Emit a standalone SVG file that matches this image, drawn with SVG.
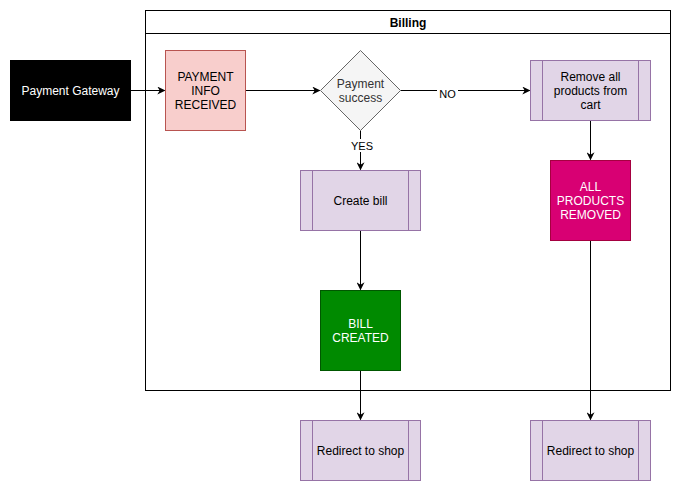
<svg xmlns="http://www.w3.org/2000/svg" width="681" height="491" viewBox="0 0 681 491">
<defs>
<marker id="arr" viewBox="0 0 10 10" refX="9" refY="5" markerWidth="8" markerHeight="8" markerUnits="userSpaceOnUse" orient="auto">
<path d="M0,0 L10,5 L0,10 L3,5 Z" fill="#000"/>
</marker>
</defs>
<style>
text{font-family:"Liberation Sans",Arial,sans-serif;font-size:12px;text-anchor:middle}
.proc{fill:#e1d5e7;stroke:#9673a6;stroke-width:1}
.edge{fill:none;stroke:#000;stroke-width:1;marker-end:url(#arr)}
.lbl{font-size:11px}
</style>
<rect width="681" height="491" fill="#fff"/>
<g id="pool">
<rect x="145.5" y="10.5" width="525" height="380" fill="none" stroke="#000"/>
<line x1="145.5" y1="33.5" x2="670.5" y2="33.5" stroke="#000"/>
<text x="408" y="26.5" font-weight="bold">Billing</text>
</g>
<g id="connectors">
<path class="edge" d="M130.5,90.5 H164.5"/>
<path class="edge" d="M245.5,90.5 H319.5"/>
<path class="edge" d="M400.5,90.5 H529.5"/>
<path class="edge" d="M360.5,130.5 V169.5"/>
<path class="edge" d="M590.5,120.5 V159.5"/>
<path class="edge" d="M360.5,230.5 V289.5"/>
<path class="edge" d="M360.5,370.5 V419.5"/>
<path class="edge" d="M590.5,240.5 V419.5"/>
<rect x="437" y="86" width="21" height="12" fill="#fff"/>
<text class="lbl" x="447.5" y="97.5">NO</text>
<rect x="349" y="139" width="25" height="13" fill="#fff"/>
<text class="lbl" x="362" y="149.5">YES</text>
</g>
<g id="payment-gateway">
<rect x="10" y="60" width="121" height="61" fill="#000"/>
<text x="70.5" y="94.5" fill="#fff">Payment Gateway</text>
</g>
<g id="payment-info">
<rect x="165.5" y="50.5" width="80" height="80" fill="#f8cecc" stroke="#b85450"/>
<text x="205.5" y="80.5">PAYMENT</text>
<text x="205.5" y="94.5">INFO</text>
<text x="205.5" y="108.5">RECEIVED</text>
</g>
<g id="payment-success">
<path d="M360.5,50.5 L400.5,90.5 L360.5,130.5 L320.5,90.5 Z" fill="#f5f5f5" stroke="#666666"/>
<text x="360.5" y="87.5" fill="#333333">Payment</text>
<text x="360.5" y="101.5" fill="#333333">success</text>
</g>
<g id="remove-products">
<rect class="proc" x="530.5" y="60.5" width="120" height="60"/>
<line x1="542.5" y1="60.5" x2="542.5" y2="120.5" stroke="#9673a6"/>
<line x1="638.5" y1="60.5" x2="638.5" y2="120.5" stroke="#9673a6"/>
<text x="590.5" y="80.5">Remove all</text>
<text x="590.5" y="94.5">products from</text>
<text x="590.5" y="108.5">cart</text>
</g>
<g id="create-bill">
<rect class="proc" x="300.5" y="170.5" width="120" height="60"/>
<line x1="312.5" y1="170.5" x2="312.5" y2="230.5" stroke="#9673a6"/>
<line x1="408.5" y1="170.5" x2="408.5" y2="230.5" stroke="#9673a6"/>
<text x="360.5" y="204.5">Create bill</text>
</g>
<g id="all-removed">
<rect x="550.5" y="160.5" width="80" height="80" fill="#d80073" stroke="#a50040"/>
<text x="590.5" y="190.5" fill="#fff">ALL</text>
<text x="590.5" y="204.5" fill="#fff">PRODUCTS</text>
<text x="590.5" y="218.5" fill="#fff">REMOVED</text>
</g>
<g id="bill-created">
<rect x="320.5" y="290.5" width="80" height="80" fill="#008a00" stroke="#005700"/>
<text x="360.5" y="327.5" fill="#fff">BILL</text>
<text x="360.5" y="341.5" fill="#fff">CREATED</text>
</g>
<g id="redirect-left">
<rect class="proc" x="300.5" y="420.5" width="120" height="60"/>
<line x1="312.5" y1="420.5" x2="312.5" y2="480.5" stroke="#9673a6"/>
<line x1="408.5" y1="420.5" x2="408.5" y2="480.5" stroke="#9673a6"/>
<text x="360.5" y="454.5">Redirect to shop</text>
</g>
<g id="redirect-right">
<rect class="proc" x="530.5" y="420.5" width="120" height="60"/>
<line x1="542.5" y1="420.5" x2="542.5" y2="480.5" stroke="#9673a6"/>
<line x1="638.5" y1="420.5" x2="638.5" y2="480.5" stroke="#9673a6"/>
<text x="590.5" y="454.5">Redirect to shop</text>
</g>
</svg>
